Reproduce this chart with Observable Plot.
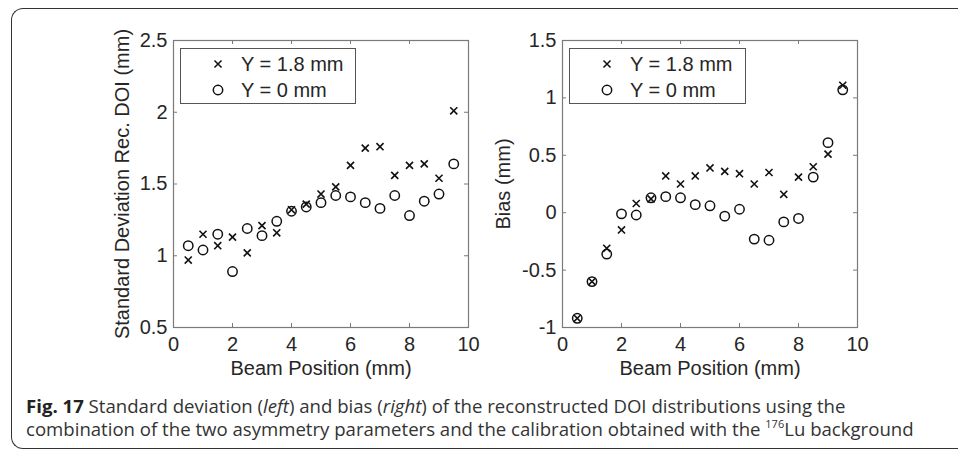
<!DOCTYPE html>
<html>
<head>
<meta charset="utf-8">
<script src="https://cdn.jsdelivr.net/npm/d3@7"></script>
<script src="https://cdn.jsdelivr.net/npm/@observablehq/plot@0.6"></script>
<style>
  html, body { margin: 0; padding: 0; background: #fff; }
  #wrap { position: relative; width: 958px; height: 450px; overflow: hidden; background: #fff; }
  #border { position: absolute; left: 11px; top: 8px; width: 1000px; height: 441px;
            border: 1.5px solid #333; border-right: none; border-radius: 12px 0 0 12px; box-sizing: border-box; }
  .plot { position: absolute; top: 0; }
  .legend { position: absolute; top: 48px; height: 56px; border: 1px solid #555; background: #fff;
            box-sizing: border-box; font-family: "Liberation Sans", Arial, sans-serif; font-size: 20px; color: #262626; }
  .legend .row { position: absolute; left: 0; height: 26px; line-height: 26px; white-space: nowrap; }
  .legend svg { position: absolute; top: 6px; }
  .legend span { position: absolute; left: 60px; top: 0; }
  #caption { position: absolute; left: 26px; top: 394px; font-family: "Open Sans", sans-serif; font-size: 18.6px;
             line-height: 23px; color: #333; white-space: nowrap; }
  #caption b { font-weight: 700; color: #222; }
  sup { font-size: 11px; vertical-align: 8px; line-height: 0; }
</style>
</head>
<body>
<div id="wrap">
  <div id="border"></div>
  <div id="left" class="plot" style="left:0px"></div>
  <div id="right" class="plot" style="left:479px"></div>
  <div id="caption"><b>Fig. 17</b> Standard deviation (<i>left</i>) and bias (<i>right</i>) of the reconstructed DOI distributions using the<br>combination of the two asymmetry parameters and the calibration obtained with the <sup>176</sup>Lu background</div>
</div>
<script>
// ---- data ----
const beamPositions = [0.5, 1.0, 1.5, 2.0, 2.5, 3.0, 3.5, 4.0, 4.5, 5.0, 5.5, 6.0, 6.5, 7.0, 7.5, 8.0, 8.5, 9.0, 9.5];
const seriesNames = ["Y = 1.8 mm", "Y = 0 mm"];
const sdY18 = [0.97, 1.15, 1.07, 1.13, 1.02, 1.21, 1.16, 1.32, 1.36, 1.43, 1.48, 1.63, 1.75, 1.76, 1.56, 1.63, 1.64, 1.54, 2.01];
const sdY0  = [1.07, 1.04, 1.15, 0.89, 1.19, 1.14, 1.24, 1.31, 1.34, 1.37, 1.42, 1.41, 1.37, 1.33, 1.42, 1.28, 1.38, 1.43, 1.64];
const biasY18 = [-0.92, -0.60, -0.31, -0.15, 0.08, 0.12, 0.32, 0.25, 0.32, 0.39, 0.36, 0.34, 0.25, 0.35, 0.16, 0.31, 0.40, 0.51, 1.11];
const biasY0  = [-0.92, -0.60, -0.36, -0.01, -0.02, 0.13, 0.14, 0.13, 0.07, 0.06, -0.03, 0.03, -0.23, -0.24, -0.08, -0.05, 0.31, 0.61, 1.07];
const xTicks = [0, 2, 4, 6, 8, 10];
const yTicksLeft = [0.5, 1, 1.5, 2, 2.5];
const yTicksRight = [-1, -0.5, 0, 0.5, 1, 1.5];
const xLabel = "Beam Position (mm)";
const yLabelLeft = "Standard Deviation Rec. DOI (mm)";
const yLabelRight = "Bias (mm)";

const frameColor = "#7a7a7a";
const textColor = "#262626";
const W = 479, H = 390;

function scatter({y18, y0, yDomain, yTicks, yLabel, marginLeft, marginRight, yLabelDx}) {
  const marginTop = 40, marginBottom = H - 327;
  const fw = W - marginLeft - marginRight, fh = H - marginTop - marginBottom;
  const rows = beamPositions.map((x, i) => ({x, a: y18[i], b: y0[i]}));
  const fmt = d => String(d);
  return Plot.plot({
    width: W, height: H,
    marginLeft, marginRight, marginTop, marginBottom,
    x: {domain: [0, 10]},
    y: {domain: yDomain},
    style: {fontFamily: "'Liberation Sans', Arial, sans-serif", fontSize: "20px", color: textColor, background: "transparent", overflow: "visible"},
    marks: [
      Plot.frame({stroke: frameColor, strokeWidth: 1.2}),
      Plot.tickX(xTicks, {x: d => d, insetBottom: fh - 4, stroke: frameColor}),
      Plot.tickX(xTicks, {x: d => d, insetTop: fh - 4, stroke: frameColor}),
      Plot.tickY(yTicks, {y: d => d, insetRight: fw - 4, stroke: frameColor}),
      Plot.tickY(yTicks, {y: d => d, insetLeft: fw - 4, stroke: frameColor}),
      Plot.axisX({ticks: xTicks, tickSize: 0, tickPadding: 9, tickFormat: fmt, label: null}),
      Plot.axisY({ticks: yTicks, tickSize: 0, tickPadding: 6, tickFormat: fmt, label: null}),
      Plot.text([xLabel], {text: d => d, frameAnchor: "bottom", textAnchor: "middle", lineAnchor: "middle", dy: 41, fill: textColor}),
      Plot.text([yLabel], {text: d => d, frameAnchor: "left", textAnchor: "middle", lineAnchor: "middle", rotate: -90, dx: yLabelDx, fill: textColor}),
      Plot.dot(rows, {x: "x", y: "b", symbol: "circle", r: 4.7, stroke: "#111", strokeWidth: 1.5, fill: "none"}),
      Plot.dot(rows, {x: "x", y: "a", symbol: "times", r: 3.3, stroke: "#111", strokeWidth: 1.6})
    ]
  });
}

document.getElementById("left").appendChild(scatter({
  y18: sdY18, y0: sdY0, yDomain: [0.5, 2.5], yTicks: yTicksLeft, yLabel: yLabelLeft,
  marginLeft: 173, marginRight: W - 468, yLabelDx: -51
}));
document.getElementById("right").appendChild(scatter({
  y18: biasY18, y0: biasY0, yDomain: [-1, 1.5], yTicks: yTicksRight, yLabel: yLabelRight,
  marginLeft: 562 - 479, marginRight: 958 - 857, yLabelDx: -59
}));

// legends
function legend(left, width) {
  const div = document.createElement("div");
  div.className = "legend";
  div.style.left = left + "px";
  div.style.width = width + "px";
  const symbols = ["times", "circle"];
  seriesNames.forEach((name, i) => {
    const row = document.createElement("div");
    row.className = "row";
    row.style.top = (2 + i * 26) + "px";
    row.style.width = width + "px";
    const sym = symbols[i] === "times" ? d3.symbolTimes : d3.symbolCircle;
    const size = symbols[i] === "times" ? Math.PI * 3.3 * 3.3 : Math.PI * 4.7 * 4.7;
    row.innerHTML = `<svg width="14" height="14" style="left:30px"><path transform="translate(7,7)" d="${d3.symbol(sym, size)()}" fill="none" stroke="#111" stroke-width="1.5"/></svg><span>${name}</span>`;
    div.appendChild(row);
  });
  document.getElementById("wrap").appendChild(div);
}
legend(180, 176);
legend(569, 177);
</script>
</body>
</html>
